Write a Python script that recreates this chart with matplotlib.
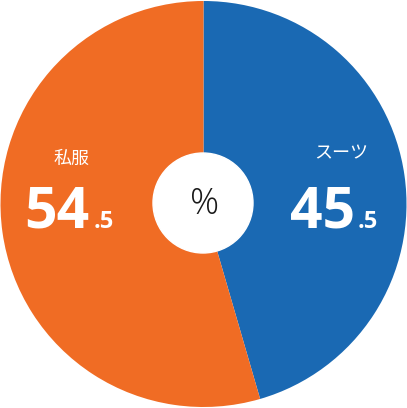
import matplotlib.pyplot as plt

# データ
labels = ['スーツ', '私服']
values = [45.5, 54.5]
colors = ['#1a69b3', '#f06c24']

W, H = 407, 408

fig = plt.figure(figsize=(W / 100, H / 100), dpi=100)
ax = fig.add_axes([0, 0, 1, 1])

cx, cy, r = 203.5, H - 204, 203
ax.pie(values, colors=colors, startangle=90, counterclock=False,
       center=(cx, cy), radius=r, wedgeprops=dict(linewidth=0))
ax.set_xlim(0, W)
ax.set_ylim(0, H)
ax.set_aspect('equal')
ax.axis('off')

# 真ん中の白丸
ax.add_patch(plt.Circle((203, H - 203), 50, color='white', zorder=3))
ax.text(205, H - 204.5, '%', ha='center', va='center', fontsize=26,
        fontweight='light', family=['Open Sans', 'DejaVu Sans'], color='#1a1a1a', zorder=4)

# ラベル (名前の中心x, 名前のy, 数字の右端x, 小数の左端x)
label_pos = [(341, 153, 355, 358), (72, 159, 89, 94)]
for name, val, (nx, ny, rx, lx) in zip(labels, values, label_pos):
    ax.text(nx, H - ny, name, ha='center', va='center', fontsize=13,
            family=['Noto Sans CJK JP', 'DejaVu Sans'], color='white', zorder=4)
    whole, frac = f'{val:.1f}'.split('.')
    ax.text(rx, H - 228, whole, ha='right', va='baseline', fontsize=41,
            fontweight='bold', family=['Open Sans', 'DejaVu Sans'], color='white', zorder=4)
    ax.text(lx, H - 228, '.' + frac, ha='left', va='baseline', fontsize=17,
            fontweight='bold', family=['Open Sans', 'DejaVu Sans'], color='white', zorder=4)

fig.savefig('out.png', dpi=100, facecolor='white')
